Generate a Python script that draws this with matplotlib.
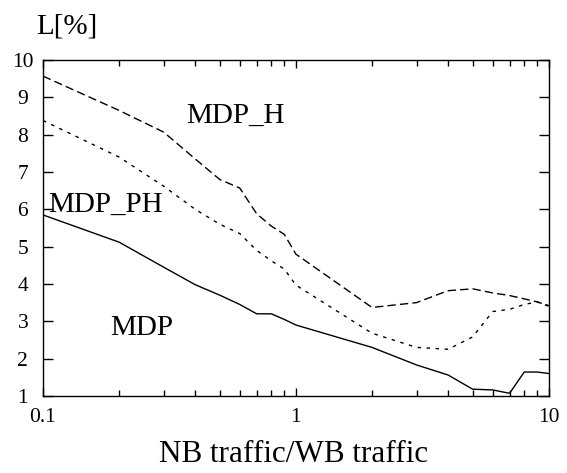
import matplotlib.pyplot as plt
from matplotlib.ticker import LogLocator, NullFormatter, FixedLocator, FixedFormatter

ratio = [0.1, 0.2, 0.3, 0.4, 0.5, 0.6, 0.7, 0.8, 0.9, 1, 2, 3, 4, 5, 6, 7, 8, 9, 10]
mdp = [5.85, 5.12, 4.45, 3.98, 3.7, 3.45, 3.2, 3.2, 3.05, 2.9, 2.3, 1.83, 1.56, 1.18, 1.16, 1.07, 1.64, 1.64, 1.6]
mdp_h = [9.57, 8.65, 8.07, 7.35, 6.8, 6.57, 5.88, 5.55, 5.33, 4.8, 3.37, 3.5, 3.82, 3.87, 3.76, 3.69, 3.6, 3.52, 3.42]
mdp_ph = [8.38, 7.4, 6.62, 6.0, 5.6, 5.35, 4.9, 4.62, 4.4, 3.97, 2.68, 2.3, 2.25, 2.58, 3.26, 3.32, 3.45, 3.52, 3.4]

plt.rcParams["font.family"] = ["Liberation Serif", "DejaVu Serif"]

fig = plt.figure(figsize=(5.67, 4.73), dpi=100)
ax = fig.add_axes([0.0758, 0.163, 0.892, 0.710])

ax.plot(ratio, mdp, color="black", linewidth=1.0, linestyle="-")
ax.plot(ratio, mdp_h, color="black", linewidth=1.0, linestyle=(0, (6, 3)))
ax.plot(ratio, mdp_ph, color="black", linewidth=1.0, linestyle=(0, (2.5, 4)))

ax.set_xscale("log")
ax.set_xlim(0.1, 10)
ax.set_ylim(1, 10)
ax.xaxis.set_major_locator(FixedLocator([0.1, 1, 10]))
ax.xaxis.set_major_formatter(FixedFormatter(["0.1", "1", "10"]))
ax.xaxis.set_minor_locator(LogLocator(base=10, subs=range(2, 10)))
ax.xaxis.set_minor_formatter(NullFormatter())
ax.set_yticks(range(1, 11))

ax.tick_params(axis="both", which="both", direction="in", top=True, right=True,
               labelsize=15.5, width=1.0)
ax.tick_params(axis="y", which="major", length=7.5, pad=14.5)
ax.tick_params(axis="x", which="major", length=6, pad=9)
ax.tick_params(axis="x", which="minor", length=4.5)
for label in ax.get_yticklabels():
    label.set_horizontalalignment("center")
for s in ax.spines.values():
    s.set_linewidth(1.0)

ax.text(0.367, 8.31, "MDP_H", fontsize=21)
ax.text(0.1046, 5.93, "MDP_PH", fontsize=21)
ax.text(0.184, 2.63, "MDP", fontsize=21)

fig.text(0.063, 0.93, "L[%]", fontsize=21)
fig.text(0.518, 0.024, "NB traffic/WB traffic", fontsize=22.4, ha="center")

fig.savefig("out.png", dpi=100)
